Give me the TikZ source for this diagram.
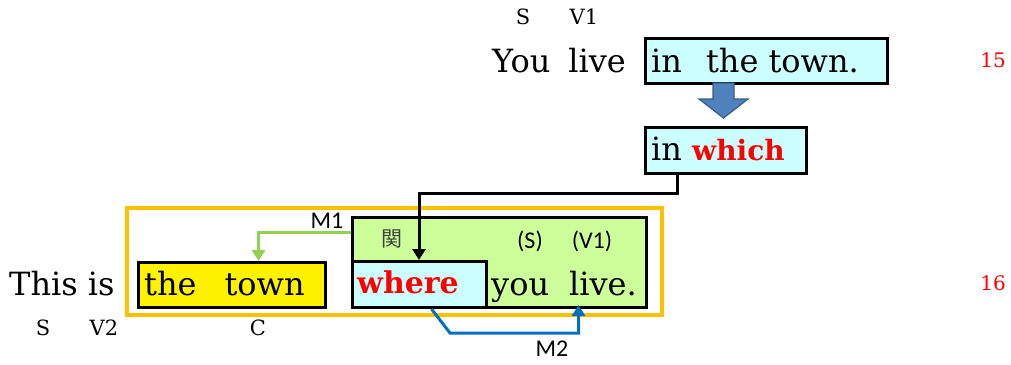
\documentclass[tikz,border=0pt]{standalone}
\usepackage{fontspec}
\setmainfont{DejaVu Serif}
\newfontfamily\cjk{Noto Sans CJK JP}
\newfontfamily\calib{Carlito}
\usetikzlibrary{arrows.meta}
\definecolor{lcyan}{HTML}{CCFFFF}
\definecolor{lgreen}{HTML}{CCFF99}
\definecolor{orng}{HTML}{FFC000}
\definecolor{ggreen}{HTML}{92D050}
\definecolor{bblue}{HTML}{0070C0}
\definecolor{afill}{HTML}{4F81BD}
\definecolor{aline}{HTML}{385D8A}
\definecolor{rred}{HTML}{FF0000}
\tikzset{
  boxb/.style={draw=black, line width=3pt, inner sep=0pt, anchor=north west},
  big/.style={inner sep=0pt, anchor=base west, font=\fontsize{32}{38}\selectfont},
  lab/.style={inner sep=0pt, font=\fontsize{21}{25}\selectfont},
  slab/.style={inner sep=0pt, font=\calib\fontsize{24}{28}\selectfont},
  num/.style={inner sep=0pt, text=rred, font=\fontsize{20}{24}\selectfont},
  conn/.style={line width=3pt, -{Triangle[width=13pt,length=11pt]}},
}
\begin{document}
\begin{tikzpicture}[x=1pt,y=-1pt]
\useasboundingbox (0,0) rectangle (1011,364);
% top sentence
\node[lab] (s1) at (523,17) {S};
\node[lab] (v1) at (584,17) {V1};
\node[big] (youlive) at (492,72) {You\hspace{18pt}live};
\node[boxb, fill=lcyan, minimum width=242pt, minimum height=45pt] (box1) at (644,37) {};
\node[big] (t1) at (651,72) {in\hspace{24pt}the town.};
\node[num] (n15) at (993,60) {15};
% block arrow
\fill[afill, draw=aline, line width=1.2pt, line join=miter]
  (713,83) -- (734,83) -- (734,99) -- (748,99) -- (723.5,118) -- (699,99) -- (713,99) -- cycle;
\node[boxb, fill=lcyan, minimum width=161pt, minimum height=46pt] (box2) at (644,126) {};
\node[big] (t2) at (651,160) {in \textcolor{rred}{\bfseries\fontsize{28}{34}\selectfont which}};
% bottom sentence
\node[draw=orng, line width=3.5pt, inner sep=0pt, anchor=north west, minimum width=535pt, minimum height=107pt] (outer) at (125,206) {};
\node[boxb, fill=lgreen, minimum width=294pt, minimum height=90pt] (green) at (351,216) {};
\node[boxb, fill=lcyan, minimum width=134pt, minimum height=46pt] (whereb) at (351,260) {};
\node[boxb, fill=yellow, minimum width=187pt, minimum height=45pt] (town) at (137,261) {};
\node[big] (thisis) at (9,295) {This is};
\node[big] (t3) at (144,295) {the\hspace{28pt}town};
\node[big, text=rred, font=\bfseries\fontsize{30}{36}\selectfont] (t4) at (357,293) {where};
\node[big] (t5) at (491,295) {you\hspace{20pt}live.};
\node[inner sep=0pt, text=black!75, font=\cjk\fontsize{21}{25}\selectfont] (kan) at (392,239) {関};
\node[slab] (ss) at (530,241) {(S)};
\node[slab] (vv) at (592,241) {(V1)};
\node[slab] (m1) at (327,221) {M1};
\node[slab] (m2) at (552,349) {M2};
\node[lab] (s2) at (43,328) {S};
\node[lab] (v2) at (104,328) {V2};
\node[lab] (cc) at (258,328) {C};
\node[num] (n16) at (993,283) {16};
% connectors
\coordinate (j1) at (419,193);
\draw[conn, black] ([xshift=33pt]box2.south west) |- (j1) -- (j1 |- whereb.north);
\draw[conn, ggreen] ([yshift=-16pt]green.north west) -| ([xshift=26.5pt]town.north);
\coordinate (j2) at (450,333);
\draw[conn, bblue] ([xshift=12pt]whereb.south) -- (j2) -| ([xshift=79pt,yshift=4pt]green.south);
\end{tikzpicture}
\end{document}
